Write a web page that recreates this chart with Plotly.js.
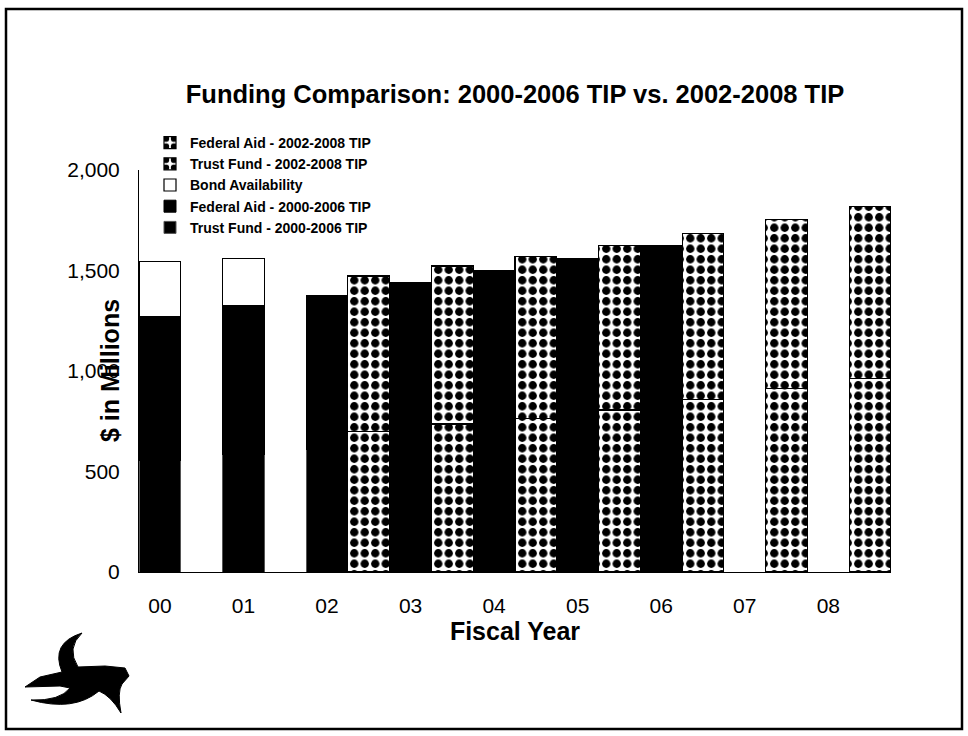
<!DOCTYPE html>
<html>
<head>
<meta charset="utf-8">
<script src="https://cdn.plot.ly/plotly-3.0.1.min.js"></script>
<style>
  html, body { margin: 0; padding: 0; background: #fff; }
  #chart { width: 968px; height: 736px; }
</style>
</head>
<body>
<div id="chart"></div>
<script>
// ---- data (values in $ millions) ----
const years = ['00', '01', '02', '03', '04', '05', '06', '07', '08'];

// 2000-2006 TIP (fiscal years 00-06)
const oldYears = ['00', '01', '02', '03', '04', '05', '06'];
const oldTrustFund = [557, 587, 607, 645, 670, 698, 735];
const oldFederalAid = [713, 740, 768, 794, 832, 863, 887];

// Bond availability (fiscal years 00-01)
const bondYears = ['00', '01'];
const bondAvailability = [274, 232];

// 2002-2008 TIP (fiscal years 02-08)
const newYears = ['02', '03', '04', '05', '06', '07', '08'];
const newTrustFund = [701, 736, 765, 806, 859, 914, 964];
const newFederalAid = [772, 786, 804, 817, 826, 841, 853];

const yTicks = [0, 500, 1000, 1500, 2000];

// ---- layout constants ----
const W = 968, H = 736;
const M = { l: 139, r: 77, t: 170, b: 164 };
const plotW = W - M.l - M.r, plotH = H - M.t - M.b;
const FONT = 'Liberation Sans, Arial, sans-serif';

const idx = y => years.indexOf(y);
const oldX = oldYears.map(idx);
const bondX = bondYears.map(idx);
const newX = newYears.map(y => idx(y) + 0.5);

const pattern = { shape: '.', fgcolor: '#000', bgcolor: '#fff', size: 10.5, solidity: 0.5 };

const traces = [
  {
    type: 'bar', name: '<b>Trust Fund - 2000-2006 TIP</b>',
    x: oldX, y: oldTrustFund, width: 0.5,
    marker: { color: '#000', line: { color: '#555', width: 1 } }
  },
  {
    type: 'bar', name: '<b>Federal Aid - 2000-2006 TIP</b>',
    x: oldX, y: oldFederalAid, width: 0.5,
    marker: { color: '#000', line: { color: '#000', width: 1 } }
  },
  {
    type: 'bar', name: '<b>Bond Availability</b>',
    x: bondX, y: bondAvailability, width: 0.5,
    marker: { color: '#fff', line: { color: '#000', width: 1.2 } }
  },
  {
    type: 'bar', name: '<b>Trust Fund - 2002-2008 TIP</b>',
    x: newX, y: newTrustFund, width: 0.5,
    marker: { color: '#fff', pattern: pattern, line: { color: '#000', width: 1.2 } }
  },
  {
    type: 'bar', name: '<b>Federal Aid - 2002-2008 TIP</b>',
    x: newX, y: newFederalAid, width: 0.5,
    marker: { color: '#fff', pattern: pattern, line: { color: '#000', width: 1.2 } }
  }
];

// helpers for decorative shapes in pixel coordinates
const px2paperX = p => (p - M.l) / plotW;
const px2paperY = p => (H - M.b - p) / plotH;

// rough NCDOT logo outline (pixel coords in the page)
const logoPts = [
  ['M', 82, 633],
  ['Q', 66, 648, 78, 667],
  ['L', 105, 666], ['L', 125, 668], ['L', 129, 676], ['L', 122, 684],
  ['Q', 117, 692, 121, 713],
  ['Q', 111, 696, 99, 691],
  ['Q', 74, 712, 31, 700],
  ['Q', 60, 701, 70, 688],
  ['L', 60, 686], ['L', 25, 687], ['L', 40, 677], ['L', 62, 672],
  ['Q', 50, 643, 82, 633]
];
const logoPath = logoPts.map(s => {
  const c = s[0]; const nums = s.slice(1);
  const out = [];
  for (let i = 0; i < nums.length; i += 2) out.push(nums[i] + ',' + (H - nums[i + 1]));
  return c + out.join(' ');
}).join(' ') + ' Z';

const layout = {
  width: W, height: H,
  margin: M,
  paper_bgcolor: '#fff', plot_bgcolor: '#fff',
  barmode: 'stack',
  font: { family: FONT, color: '#000', size: 21 },
  title: {
    text: '<b>Funding Comparison: 2000-2006 TIP vs. 2002-2008 TIP</b>',
    font: { family: FONT, size: 25.5, color: '#000' },
    x: 0.5, xref: 'paper', xanchor: 'center',
    y: 1 - 94 / H, yref: 'container', yanchor: 'middle'
  },
  xaxis: {
    range: [-0.25, 8.75],
    tickmode: 'array', tickvals: years.map(idx), ticktext: years,
    ticks: '', showgrid: false, zeroline: false,
    showline: true, linecolor: '#000', linewidth: 1,
    tickfont: { family: FONT, size: 21, color: '#000' },
    ticklabelstandoff: 15,
    title: { text: '<b>Fiscal Year</b>', font: { family: FONT, size: 25, color: '#000' }, standoff: 2 }
  },
  yaxis: {
    range: [0, 2000],
    tickmode: 'array', tickvals: yTicks,
    tickformat: ',d',
    ticks: '', showgrid: false, zeroline: false,
    showline: true, linecolor: '#000', linewidth: 1,
    tickfont: { family: FONT, size: 21, color: '#000' },
    ticklabelstandoff: 14
  },
  annotations: [
    {
      text: '<b>$ in Millions</b>', textangle: -90,
      xref: 'paper', yref: 'paper', x: px2paperX(110), y: 0.5,
      xanchor: 'center', yanchor: 'middle', showarrow: false,
      font: { family: FONT, size: 25, color: '#000' }
    }
  ],
  legend: {
    x: px2paperX(150), y: px2paperY(127), xanchor: 'left', yanchor: 'top',
    traceorder: 'reversed', bgcolor: 'rgba(0,0,0,0)',
    font: { family: FONT, size: 14, color: '#000' },
    itemwidth: 30
  },
  shapes: [
    {
      type: 'rect', xref: 'paper', yref: 'paper',
      x0: px2paperX(6), x1: px2paperX(962), y0: px2paperY(729), y1: px2paperY(9),
      line: { color: '#000', width: 2.5 }, fillcolor: 'rgba(0,0,0,0)', layer: 'above'
    },
    {
      type: 'path', xref: 'paper', yref: 'paper',
      xsizemode: 'pixel', ysizemode: 'pixel',
      xanchor: px2paperX(0), yanchor: px2paperY(H),
      path: logoPath, fillcolor: '#000', line: { color: '#000', width: 1 }
    }
  ],
  showlegend: true
};

Plotly.newPlot('chart', traces, layout, { displayModeBar: false, staticPlot: true });
</script>
</body>
</html>
